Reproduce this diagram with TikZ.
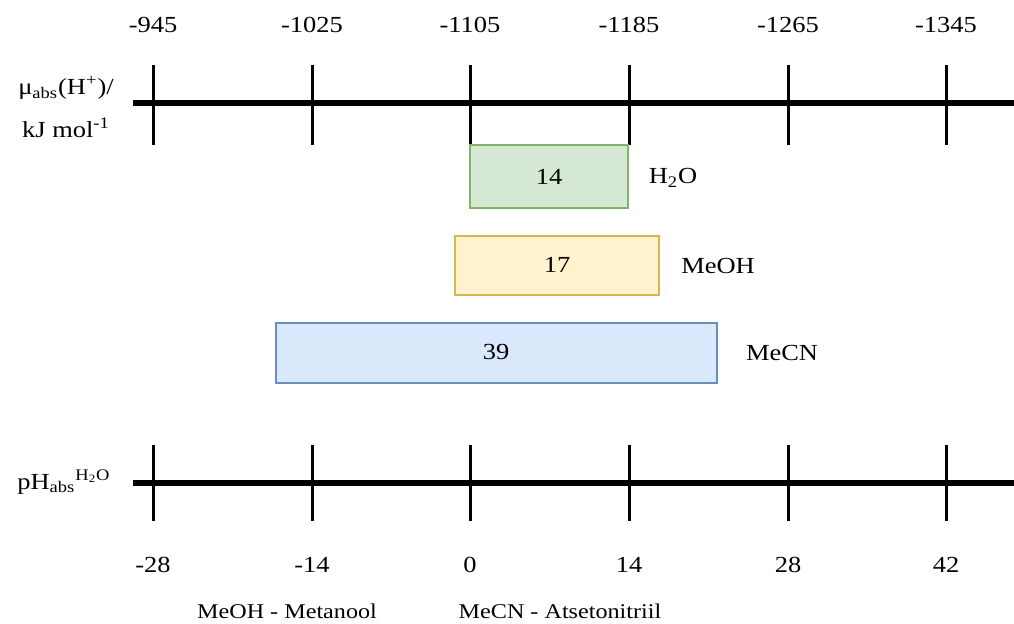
\documentclass[tikz,border=0pt]{standalone}
\usepackage{fontspec}
\setmainfont[FakeStretch=1.15]{Liberation Serif}
\begin{document}
\begin{tikzpicture}[x=0.5pt,y=-0.5pt,
  axisline/.style={line width=2.6pt},
  tickline/.style={line width=1.5pt},
  lbl/.style={font=\fontsize{11.5}{13}\selectfont, inner sep=0pt},
  sm/.style={font=\fontsize{10.5}{12}\selectfont, inner sep=0pt},
  rbox/.style={line width=0.7pt},
  ]
\definecolor{gfill}{HTML}{D5E8D4}\definecolor{gdraw}{HTML}{82B366}
\definecolor{yfill}{HTML}{FFF2CC}\definecolor{ydraw}{HTML}{D6B656}
\definecolor{bfill}{HTML}{DAE8FC}\definecolor{bdraw}{HTML}{6C8EBF}
\useasboundingbox (0,0) rectangle (1014,623);
% top axis
\draw[axisline] (133,103) -- (1014,103);
\foreach \x/\v in {153/-945,312/-1025,470/-1105,629/-1185,788/-1265,946/-1345}{
  \draw[tickline] (\x,65) -- (\x,145);
  \node[lbl] at (\x,25) {\v};
}
% bottom axis
\draw[axisline] (133,483) -- (1014,483);
\foreach \x/\v in {153/-28,312/-14,470/0,629/14,788/28,946/42}{
  \draw[tickline] (\x,445) -- (\x,521);
  \node[lbl] at (\x,565) {\v};
}
% left labels
\node[lbl] (mu) at (66,88) {μ\textsubscript{abs}(H\textsuperscript{+})/};
\node[lbl] (kj) at (66,128) {kJ mol\textsuperscript{-1}};
\node[lbl] (ph) at (64,482) {pH\textsubscript{abs}\textsuperscript{H\textsubscript{2}O}};
% boxes
\draw[rbox, draw=gdraw, fill=gfill] (470,145) rectangle (628,208);
\node[lbl] (n14) at (549,177) {14};
\node[lbl] (h2o) at (673,178) {H\textsubscript{2}O};
\draw[rbox, draw=ydraw, fill=yfill] (455,236) rectangle (659,295);
\node[lbl] (n17) at (557,265) {17};
\node[lbl] (meoh) at (718,266) {MeOH};
\draw[rbox, draw=bdraw, fill=bfill] (276,323) rectangle (717,383);
\node[lbl] (n39) at (496,352) {39};
\node[lbl] (mecn) at (782,353) {MeCN};
% bottom notes
\node[sm] (n1) at (287,611) {MeOH - Metanool};
\node[sm] (n2) at (560,611) {MeCN - Atsetonitriil};
\end{tikzpicture}
\end{document}
